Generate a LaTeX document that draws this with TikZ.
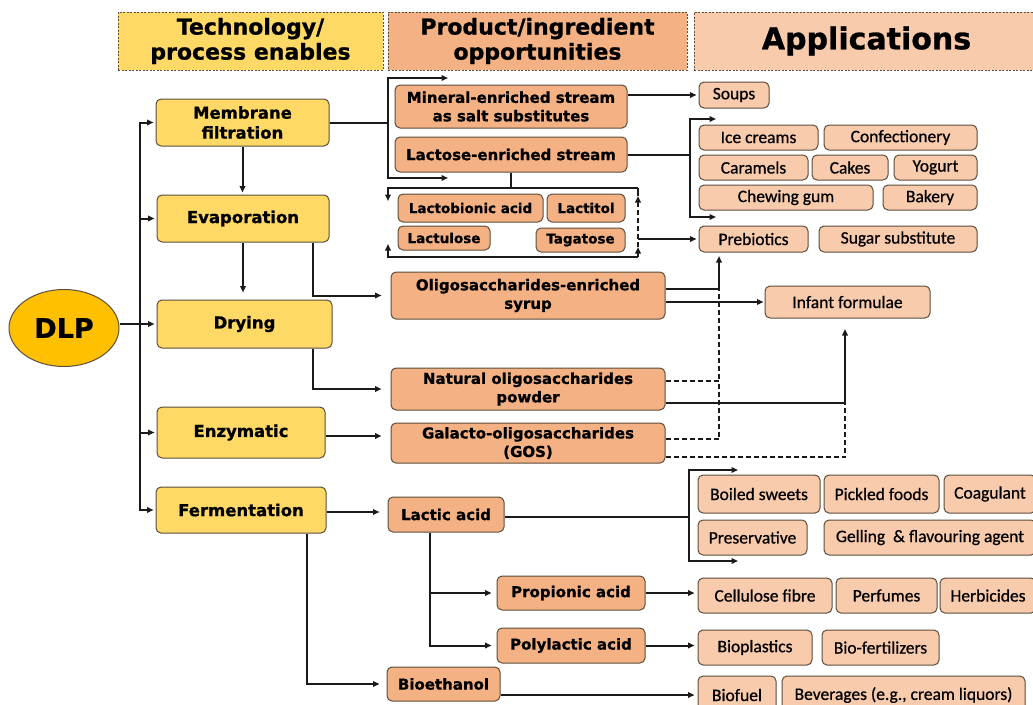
\documentclass[tikz,border=0pt]{standalone}
\usepackage{fontspec}
\setmainfont{DejaVu Sans}[BoldFeatures={FakeBold=0.9}]
\newfontfamily\carl{Carlito}[FakeBold=0.7]
\usetikzlibrary{arrows.meta,shapes.geometric,calc}
\definecolor{yel}{HTML}{FFD966}
\definecolor{gold}{HTML}{FFC000}
\definecolor{org}{HTML}{F4B183}
\definecolor{lite}{HTML}{F8CBAD}
\definecolor{bord}{HTML}{5A4E3C}
\definecolor{ink}{HTML}{1A1A1A}
\tikzset{
  sz/.style 2 args={minimum width=#1pt, minimum height=#2pt},
  base/.style={draw=bord, line width=1pt, rounded corners=5pt, inner sep=0pt, align=center},
  tech/.style={base, fill=yel, font=\bfseries\fontsize{16.5}{20}\selectfont},
  prod/.style={base, fill=org, font=\bfseries\fontsize{15}{18.5}\selectfont},
  prodsm/.style={base, fill=org, font=\bfseries\fontsize{13.5}{16}\selectfont},
  app/.style={base, fill=lite, font=\carl\fontsize{17.5}{20}\selectfont},
  head/.style={draw=bord, dash pattern=on 2pt off 1.5pt, line width=0.8pt, inner sep=0pt, align=center, font=\bfseries\fontsize{22}{25}\selectfont},
  conn/.style={draw=ink, line width=2pt},
  arr/.style={conn, -{Triangle[length=6.5pt,width=5.5pt]}},
  dl/.style={conn, dash pattern=on 5pt off 3pt},
}
\begin{document}
\begin{tikzpicture}[x=1pt,y=-1pt]
\useasboundingbox (0,0) rectangle (1033,704);
% headers
\node[head, fill=yel, sz={265}{58}] (hT) at (250.5,41) {Technology/\\process enables};
\node[head, fill=org, sz={299}{58}] (hP) at (537.5,41) {Product/ingredient\\opportunities};
\node[head, fill=lite, sz={345}{58}, font=\bfseries\fontsize{30}{34}\selectfont] (hA) at (866.5,41) {Applications};
% DLP
\node[ellipse, draw=bord, line width=1pt, fill=gold, minimum width=110pt, minimum height=77pt, inner sep=0pt, font=\bfseries\fontsize{27}{30}\selectfont] (dlp) at (64,328) {DLP};
% technology
\node[tech, sz={173}{47}] (mem) at (242.5,122.5) {Membrane\\filtration};
\node[tech, sz={172}{47}] (evap) at (243,218.5) {Evaporation};
\node[tech, sz={175}{48}] (dry) at (244.5,324) {Drying};
\node[tech, sz={168}{51}] (enz) at (241,432.5) {Enzymatic};
\node[tech, sz={170}{46}] (ferm) at (241,510) {Fermentation};
% products
\node[prod, sz={232}{43}] (mineral) at (511,106.5) {Mineral-enriched stream\\as salt substitutes};
\node[prod, sz={232}{35}] (lactose) at (511,154.5) {Lactose-enriched stream};
\node[prodsm, sz={145}{28}] (lbion) at (470.5,208) {Lactobionic acid};
\node[prodsm, sz={78}{28}] (ltitol) at (586,208) {Lactitol};
\node[prodsm, sz={92}{24}] (ltulose) at (444,238) {Lactulose};
\node[prodsm, sz={89}{24}] (tagat) at (580.5,240) {Tagatose};
\node[prod, sz={274}{47}] (syrup) at (528,295.5) {Oligosaccharides-enriched\\syrup};
\node[prod, sz={274}{42}] (natural) at (528,389) {Natural oligosaccharides\\powder};
\node[prod, sz={274}{40}] (gos) at (528,443) {Galacto-oligosaccharides\\(GOS)};
\node[prod, sz={116}{35}] (lactic) at (446,514.5) {Lactic acid};
\node[prod, sz={148}{34}] (prop) at (571,593) {Propionic acid};
\node[prod, sz={148}{35}] (poly) at (571,645.5) {Polylactic acid};
\node[prod, sz={113}{34}] (bioeth) at (443.5,684) {Bioethanol};
% applications
\node[app, sz={70}{26}] (soups) at (734,95) {Soups};
\node[app, sz={119}{25}] (ice) at (758.5,137.5) {Ice creams};
\node[app, sz={153}{25}] (conf) at (900.5,137.5) {Confectionery};
\node[app, sz={109}{25}] (caram) at (753.5,167.5) {Caramels};
\node[app, sz={76}{25}] (cakes) at (850,167.5) {Cakes};
\node[app, sz={83}{25}] (yog) at (935.5,167.5) {Yogurt};
\node[app, sz={174}{25}] (chew) at (786,197.5) {Chewing gum};
\node[app, sz={94}{25}] (bak) at (930,197.5) {Bakery};
\node[app, sz={109}{26}] (preb) at (753.5,239) {Prebiotics};
\node[app, sz={158}{26}] (sugar) at (898,239) {Sugar substitute};
\node[app, sz={165}{32}] (infant) at (847.5,302) {Infant formulae};
\node[app, sz={122}{38}] (boiled) at (759,494) {Boiled sweets};
\node[app, sz={115}{38}] (pickled) at (881.5,494) {Pickled foods};
\node[app, sz={92}{38}] (coag) at (990,494) {Coagulant};
\node[app, sz={109}{35}] (pres) at (752.5,537.5) {Preservative};
\node[app, sz={212}{35}] (gell) at (930,537.5) {Gelling~~\& flavouring agent};
\node[app, sz={134}{35}] (cell) at (765,595.5) {Cellulose fibre};
\node[app, sz={101}{35}] (perf) at (886.5,595.5) {Perfumes};
\node[app, sz={96}{35}] (herb) at (988,595.5) {Herbicides};
\node[app, sz={114}{35}] (biopl) at (755,647.5) {Bioplastics};
\node[app, sz={117}{35}] (biofe) at (880.5,647.5) {Bio-fertilizers};
\node[app, sz={78}{38}] (biofuel) at (737,695) {Biofuel};
\node[app, sz={243}{38}] (bev) at (903.5,695) {Beverages (e.g., cream liquors)};
% coordinates
\coordinate (tr) at (140,0);
\coordinate (mb) at (388,122.5);
\coordinate (mbt) at (388,78);
\coordinate (mbb) at (388,178);
\coordinate (mbtE) at (448,78);
\coordinate (mbbE) at (448,178);
\coordinate (lb) at (690,154.5);
\coordinate (lbt) at (690,119);
\coordinate (lbb) at (690,217);
\coordinate (lbtE) at (716,119);
\coordinate (lbbE) at (716,217);
\coordinate (bTL) at (388,188);
\coordinate (bTR) at (638,188);
\coordinate (bBL) at (388,257);
\coordinate (bBR) at (638,257);
\coordinate (bTLa) at (388,201);
\coordinate (bBLa) at (388,244);
\coordinate (bR) at (638,239);
\coordinate (bRm) at (638,247);
\coordinate (pvb) at (719,289);
\coordinate (pvt) at (719,256);
\coordinate (nd) at (719,381);
\coordinate (gd) at (719,439);
\coordinate (ni) at (845,403);
\coordinate (gi) at (845,457);
\coordinate (nit) at (845,329);
\coordinate (lab) at (689,517);
\coordinate (labt) at (689,470);
\coordinate (labb) at (689,561);
\coordinate (labtE) at (738,470);
\coordinate (labbE) at (738,561);
% trunk
\draw[arr, shorten >=2pt] (dlp.east|-dry.west) -- (dry.west);
\draw[arr, shorten >=2pt] (tr|-ferm.west) -- (tr|-mem.west) -- (mem.west);
\draw[arr, shorten >=2pt] (tr|-mem.west) -- (tr|-ferm.west) -- (ferm.west);
\draw[arr, shorten >=2pt] (tr|-evap.west) -- (evap.west);
\draw[arr, shorten >=2pt] (tr|-enz.west) -- (enz.west);
% technology internal
\draw[arr, shorten >=2pt] (mem.south) -- (mem.south|-evap.north);
\draw[arr, shorten >=7pt] (evap.south) -- (evap.south|-dry.north);
\draw[arr, shorten >=9pt] ([xshift=70pt]evap.south) |- (syrup.west);
\draw[arr, shorten >=9pt] ([xshift=68.5pt]dry.south) |- (natural.west);
\draw[arr, shorten >=9pt] ([yshift=-3.5pt]enz.east) -- ([yshift=-3.5pt]enz.east -| gos.west);
\draw[arr, shorten >=8pt] ([yshift=-2pt]ferm.east) -- ([yshift=-2pt]ferm.east -| lactic.west);
\draw[arr, shorten >=7pt] ([xshift=66pt]ferm.south) |- (bioeth.west);
% membrane bracket
\draw[conn] (mem.east) -- (mb);
\draw[arr] (mb) -- (mbt) -- (mbtE);
\draw[arr] (mb) -- (mbb) -- (mbbE);
% mineral / lactose
\draw[arr, shorten >=2pt] (mineral.east|-soups.west) -- (soups.west);
\draw[conn] (lactose.east) -- (lb);
\draw[arr] (lb) -- (lbt) -- (lbtE);
\draw[arr] (lb) -- (lbb) -- (lbbE);
\draw[conn] (lactose.south) -- (lactose.south|-bTL);
\draw[arr] (bTR) -- (bTL) -- (bTLa);
\draw[arr] (bBR) -- (bBL) -- (bBLa);
\draw[arr] (bBR) -- (bRm);
\draw[dl, -{Triangle[length=6.5pt,width=5.5pt]}] (bRm) -- ([yshift=-8pt]bTR);
\draw[conn] ([yshift=-8pt]bTR) -- (bTR);
\draw[arr, shorten >=2pt] (bR) -- (preb.west);
% oligosaccharides
\draw[arr] (syrup.east|-pvb) -- (pvb) -- (pvt);
\draw[arr, shorten >=1pt] (syrup.east|-infant.west) -- (infant.west);
\draw[dl] (natural.east|-nd) -- (nd) -- (pvb);
\draw[dl] (gos.east|-gd) -- (gd) -- (nd);
\draw[arr] (natural.east|-ni) -- (ni) -- (nit);
\draw[dl] (gos.east|-gi) -- (gi) -- (ni);
% lactic acid
\draw[conn] (lactic.east|-lab) -- (lab);
\draw[arr] (lab) -- (labt) -- (labtE);
\draw[arr] (lab) -- (labb) -- (labbE);
\draw[arr, shorten >=5pt] ([xshift=-16pt]lactic.south) |- (prop.west);
\draw[arr, shorten >=5pt] ([xshift=-16pt]lactic.south) |- (poly.west);
\draw[arr, shorten >=3pt] (prop.east) -- (prop.east -| cell.west);
\draw[arr, shorten >=3pt] (poly.east) -- (poly.east -| biopl.west);
\draw[arr, shorten >=3pt] (bioeth.east|-biofuel.west) -- (biofuel.west);
\end{tikzpicture}
\end{document}
